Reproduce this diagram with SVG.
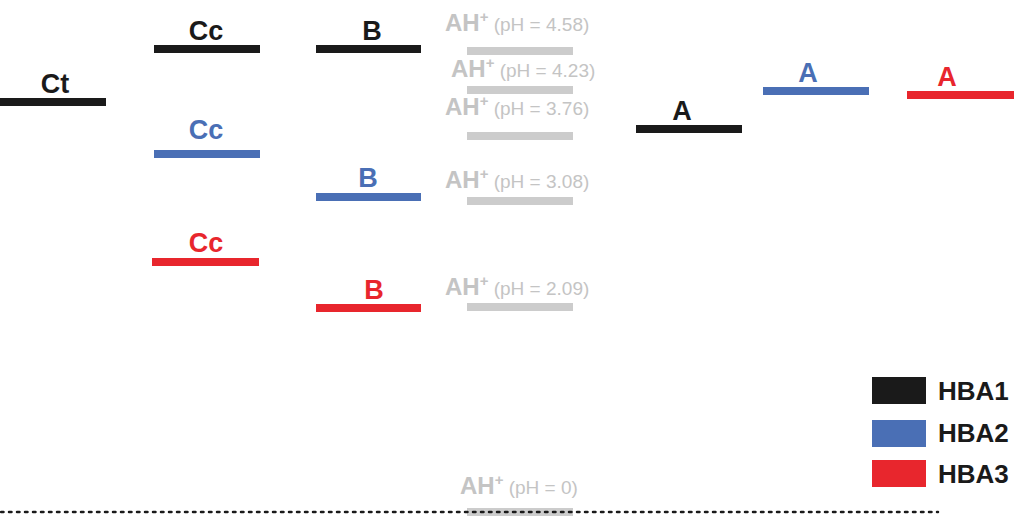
<svg xmlns="http://www.w3.org/2000/svg" width="1021" height="517" viewBox="0 0 1021 517">
<style>
.lv{stroke-width:8}
.k{stroke:#1a1a1a}.b{stroke:#4a6fb5}.r{stroke:#e8262d}.g{stroke:#cccccc}
.t{font-family:"Liberation Sans",Arial,sans-serif;font-weight:bold;font-size:27px;text-anchor:middle}
.tk{fill:#1a1a1a}.tb{fill:#4a6fb5}.tr{fill:#e8262d}
.ah{font-family:"Liberation Sans",Arial,sans-serif;fill:#c4c4c4;font-size:19px}
.ah tspan.m{font-weight:bold;font-size:24px}
.lg{font-family:"Liberation Sans",Arial,sans-serif;font-weight:bold;font-size:26px;fill:#1a1a1a}
</style>
<rect width="1021" height="517" fill="#fff"/>
<g id="Ct"><line class="lv k" x1="0" y1="102" x2="106" y2="102"/><text class="t tk" x="55" y="93">Ct</text></g>
<g id="Cc1"><line class="lv k" x1="154" y1="49" x2="260" y2="49"/><text class="t tk" x="206" y="40">Cc</text></g>
<g id="Cc2"><line class="lv b" x1="154" y1="154" x2="260" y2="154"/><text class="t tb" x="206" y="139">Cc</text></g>
<g id="Cc3"><line class="lv r" x1="152" y1="262" x2="259" y2="262"/><text class="t tr" x="206" y="252">Cc</text></g>
<g id="B1"><line class="lv k" x1="316" y1="49" x2="421" y2="49"/><text class="t tk" x="372" y="40">B</text></g>
<g id="B2"><line class="lv b" x1="316" y1="197" x2="421" y2="197"/><text class="t tb" x="368" y="187">B</text></g>
<g id="B3"><line class="lv r" x1="316" y1="308" x2="421" y2="308"/><text class="t tr" x="374" y="299">B</text></g>
<g id="A1"><line class="lv k" x1="636" y1="129" x2="742" y2="129"/><text class="t tk" x="682" y="120">A</text></g>
<g id="A2"><line class="lv b" x1="763" y1="91" x2="869" y2="91"/><text class="t tb" x="808" y="82">A</text></g>
<g id="A3"><line class="lv r" x1="907" y1="95" x2="1014" y2="95"/><text class="t tr" x="947" y="86">A</text></g>
<g id="AH1"><line class="lv g" x1="467" y1="51" x2="573" y2="51"/><text class="ah" x="445" y="31"><tspan class="m">AH</tspan><tspan dy="-9" font-size="15" font-weight="bold">+</tspan><tspan dy="9"> (pH = 4.58)</tspan></text></g>
<g id="AH2"><line class="lv g" x1="467" y1="90" x2="573" y2="90"/><text class="ah" x="451" y="77"><tspan class="m">AH</tspan><tspan dy="-9" font-size="15" font-weight="bold">+</tspan><tspan dy="9"> (pH = 4.23)</tspan></text></g>
<g id="AH3"><line class="lv g" x1="467" y1="136" x2="573" y2="136"/><text class="ah" x="445" y="115"><tspan class="m">AH</tspan><tspan dy="-9" font-size="15" font-weight="bold">+</tspan><tspan dy="9"> (pH = 3.76)</tspan></text></g>
<g id="AH4"><line class="lv g" x1="467" y1="201" x2="573" y2="201"/><text class="ah" x="445" y="188"><tspan class="m">AH</tspan><tspan dy="-9" font-size="15" font-weight="bold">+</tspan><tspan dy="9"> (pH = 3.08)</tspan></text></g>
<g id="AH5"><line class="lv g" x1="467" y1="307" x2="573" y2="307"/><text class="ah" x="445" y="295"><tspan class="m">AH</tspan><tspan dy="-9" font-size="15" font-weight="bold">+</tspan><tspan dy="9"> (pH = 2.09)</tspan></text></g>
<g id="AH0"><line class="lv g" x1="467" y1="512" x2="573" y2="512"/><text class="ah" x="460" y="494"><tspan class="m">AH</tspan><tspan dy="-9" font-size="15" font-weight="bold">+</tspan><tspan dy="9"> (pH = 0)</tspan></text></g>
<g id="connectors"><line x1="1" y1="512" x2="938" y2="512" stroke="#1a1a1a" stroke-width="2.5" stroke-dasharray="2.5 5.5" stroke-linecap="round"/></g>
<g id="legend">
<rect x="872" y="377" width="54" height="27" fill="#1a1a1a"/><text class="lg" x="938" y="400">HBA1</text>
<rect x="872" y="420" width="54" height="27" fill="#4a6fb5"/><text class="lg" x="938" y="442">HBA2</text>
<rect x="872" y="460" width="54" height="27" fill="#e8262d"/><text class="lg" x="938" y="483">HBA3</text>
</g>
</svg>
